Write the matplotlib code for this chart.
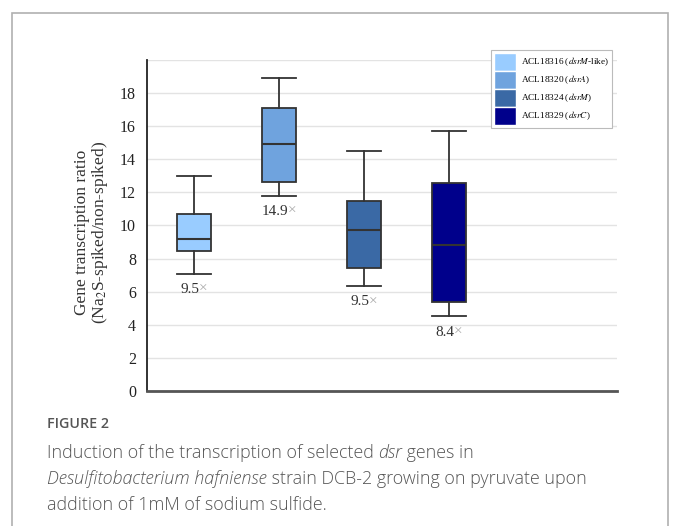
import matplotlib
matplotlib.use("Agg")
import matplotlib.pyplot as plt
from matplotlib.patches import Patch, Rectangle
from matplotlib.offsetbox import TextArea, HPacker, AnnotationBbox

# data
genes = ["ACL18316 ($\\it{dsrM}$-like)", "ACL18320 ($\\it{dsrA}$)",
         "ACL18324 ($\\it{dsrM}$)", "ACL18329 ($\\it{dsrC}$)"]
whis_lo = [7.07, 11.8, 6.33, 4.5]
q1 = [8.44, 12.65, 7.44, 5.37]
med = [9.2, 14.92, 9.71, 8.8]
q3 = [10.69, 17.1, 11.48, 12.59]
whis_hi = [13.0, 18.9, 14.5, 15.7]
fold = ["9.5", "14.9", "9.5", "8.4"]
colors = ["#99CCFF", "#6FA3DE", "#3A69A5", "#00008B"]

plt.rcParams["font.family"] = ["Liberation Serif", "DejaVu Serif"]
plt.rcParams["mathtext.fontset"] = "stix"

fig = plt.figure(figsize=(6.79, 5.26), dpi=100)
ax = fig.add_axes([0.2165, 0.2567, 0.6922, 0.6293])

stats = []
for i in range(len(genes)):
    stats.append(dict(whislo=whis_lo[i], q1=q1[i], med=med[i], q3=q3[i],
                      whishi=whis_hi[i], fliers=[]))
pos = [1, 2, 3, 4]
bp = ax.bxp(stats, positions=pos, widths=0.4, capwidths=0.4, patch_artist=True,
            showfliers=False,
            boxprops=dict(edgecolor="#333333", linewidth=1.3),
            whiskerprops=dict(color="#333333", linewidth=1.3),
            capprops=dict(color="#333333", linewidth=1.3),
            medianprops=dict(color="#333333", linewidth=1.5))
for b, c in zip(bp["boxes"], colors):
    b.set_facecolor(c)

# fold-change labels under the lower whiskers
for p, lo, f in zip(pos, whis_lo, fold):
    pk = HPacker(children=[TextArea(f, textprops=dict(color="#333333", fontsize=11)),
                           TextArea("×", textprops=dict(color="#aaaaaa", fontsize=11))],
                 sep=0, pad=0)
    ab = AnnotationBbox(pk, (p, lo - 0.95), frameon=False, box_alignment=(0.5, 0.5))
    ax.add_artist(ab)

ax.set_xlim(0.447, 5.976)
ax.set_ylim(0, 20)
ax.set_yticks(range(0, 21, 2))
ax.set_yticklabels([str(v) for v in range(0, 19, 2)] + [""])
ax.set_xticks([])
ax.tick_params(axis="y", length=0, pad=8, labelsize=11.5, labelcolor="#222222")
ax.yaxis.grid(True, color="#e3e3e3", linewidth=1)
ax.set_axisbelow(True)
for s in ["top", "right"]:
    ax.spines[s].set_visible(False)
ax.spines["left"].set_color("#222222")
ax.spines["left"].set_linewidth(1.3)
ax.spines["bottom"].set_color("#555555")
ax.spines["bottom"].set_linewidth(2)
ax.set_ylabel("Gene transcription ratio\n(Na$_2$S-spiked/non-spiked)", fontsize=12.5,
              color="#333333", linespacing=1.0)
ax.yaxis.set_label_coords(-0.078, 0.48)

handles = [Patch(facecolor=c, edgecolor="white") for c in colors]
leg = ax.legend(handles, genes, loc="upper right", bbox_to_anchor=(0.99, 1.03),
                borderaxespad=0, fontsize=6.7, fancybox=False, framealpha=1,
                edgecolor="#bbbbbb", handlelength=2.4, handleheight=2.6,
                labelspacing=0.0, handletextpad=0.6, borderpad=0.3)
leg.get_frame().set_linewidth(0.8)

# outer frame
fig.add_artist(Rectangle((12 / 679, -0.05), 656 / 679, 1.05 - 13 / 526,
                         transform=fig.transFigure, fill=False,
                         edgecolor="#b0b0b0", linewidth=1.2))

# caption
cap = dict(family=["Open Sans", "DejaVu Sans"], color="#555555", fontsize=12.9,
           fontweight="light")
fig.text(47 / 679, 1 - 424 / 526, "FIGURE 2", va="center", family=["Open Sans", "DejaVu Sans"],
         color="#555555", fontsize=10.3, fontweight="semibold")

renderer = fig.canvas.get_renderer()


def draw_line(parts, y):
    x = 47 / 679
    for txt, style in parts:
        t = fig.text(x, 1 - y / 526, txt, va="center", style=style, **cap)
        bb = t.get_window_extent(renderer)
        x = bb.x1 / fig.bbox.width


draw_line([("Induction of the transcription of selected ", "normal"), ("dsr", "italic"),
           (" genes in", "normal")], 453)
draw_line([("Desulfitobacterium hafniense", "italic"),
           (" strain DCB-2 growing on pyruvate upon", "normal")], 479)
draw_line([("addition of 1mM of sodium sulfide.", "normal")], 505)

fig.savefig("out.png", dpi=100)
